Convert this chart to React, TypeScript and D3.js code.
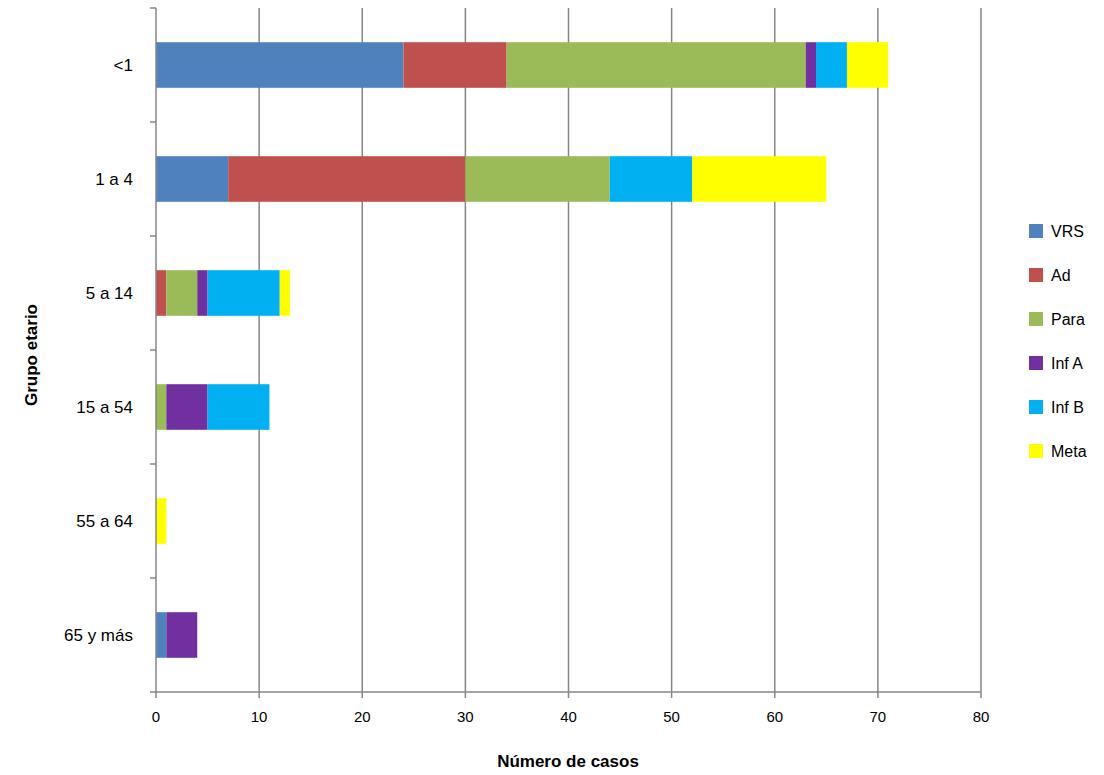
import * as d3 from "d3";

const categories = ["<1", "1 a 4", "5 a 14", "15 a 54", "55 a 64", "65 y más"];
const seriesNames = ["VRS", "Ad", "Para", "Inf A", "Inf B", "Meta"];
const colors = ["#4f81bd", "#c0504d", "#9bbb59", "#7030a0", "#00b0f0", "#ffff00"];
const VRS = [24, 7, 0, 0, 0, 1];
const Ad = [10, 23, 1, 0, 0, 0];
const Para = [29, 14, 3, 1, 0, 0];
const InfA = [1, 0, 1, 4, 0, 3];
const InfB = [3, 8, 7, 6, 0, 0];
const Meta = [4, 13, 1, 0, 1, 0];
const xTicks = [0, 10, 20, 30, 40, 50, 60, 70, 80];

const values = [VRS, Ad, Para, InfA, InfB, Meta];

export default function App() {
  const left = 156, right = 981, top = 8, bottom = 692;
  const x = d3.scaleLinear().domain([0, 80]).range([left, right]);
  const y = d3.scaleBand<string>().domain(categories).range([top, bottom]).paddingInner(0.6).paddingOuter(0.3);
  const rows = categories.map((c, i) => {
    const r: any = { cat: c };
    seriesNames.forEach((s, j) => (r[s] = values[j][i]));
    return r;
  });
  const stacked = d3.stack<any>().keys(seriesNames)(rows);
  const band = (bottom - top) / categories.length;
  const font = "Liberation Sans, Arial, sans-serif";

  return (
    <svg width={1104} height={775} style={{ position: "absolute", left: 0, top: 0, fontFamily: font }}>
      {xTicks.map((t) => (
        <g key={t}>
          {t > 0 && <line x1={x(t)} x2={x(t)} y1={top} y2={bottom} stroke="#868686" strokeWidth={1.5} />}
          <line x1={x(t)} x2={x(t)} y1={bottom} y2={bottom + 6} stroke="#868686" strokeWidth={1.5} />
          <text x={x(t)} y={bottom + 30} textAnchor="middle" fontSize={15}>{t}</text>
        </g>
      ))}
      {d3.range(categories.length + 1).map((i) => (
        <line key={i} x1={left - 6} x2={left} y1={top + i * band} y2={top + i * band} stroke="#868686" strokeWidth={1.5} />
      ))}
      {stacked.map((s, j) => (
        <g key={s.key} fill={colors[j]}>
          {s.map((d, i) => (
            <rect key={i} x={x(d[0])} y={y(categories[i])!} width={x(d[1]) - x(d[0])} height={y.bandwidth()} />
          ))}
        </g>
      ))}
      <line x1={left} x2={left} y1={top} y2={bottom} stroke="#868686" strokeWidth={1.5} />
      <line x1={left} x2={right} y1={bottom} y2={bottom} stroke="#868686" strokeWidth={1.5} />
      {categories.map((c) => (
        <text key={c} x={133} y={y(c)! + y.bandwidth() / 2} dy="0.35em" textAnchor="end" fontSize={17}>{c}</text>
      ))}
      <text x={568} y={767} textAnchor="middle" fontSize={17} fontWeight="bold">Número de casos</text>
      <text transform="translate(37,355) rotate(-90)" textAnchor="middle" fontSize={17} fontWeight="bold">Grupo etario</text>
      {seriesNames.map((s, j) => (
        <g key={s} transform={`translate(1029,${231 + j * 44})`}>
          <rect x={0} y={-7} width={14} height={14} fill={colors[j]} />
          <text x={22} y={0} dy="0.35em" fontSize={16}>{s}</text>
        </g>
      ))}
    </svg>
  );
}
